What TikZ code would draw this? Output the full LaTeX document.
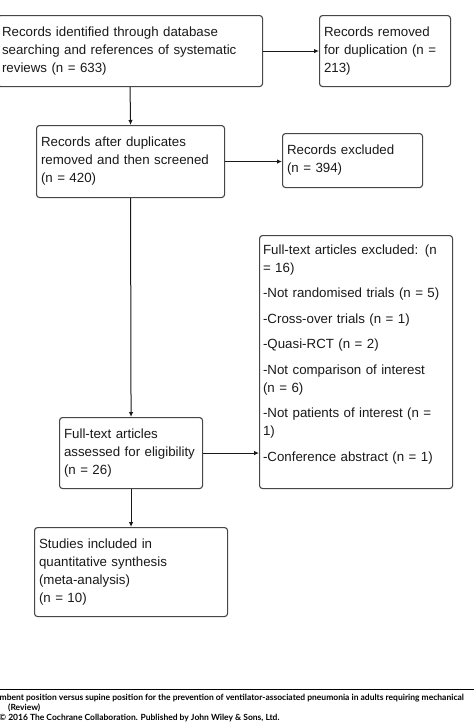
\documentclass[tikz,border=0pt]{standalone}
\usepackage{fontspec}
\setmainfont{Liberation Sans}
\newfontfamily\footfont{Lato}
\usetikzlibrary{arrows.meta}
\usepackage{xcolor}
\definecolor{boxGray}{RGB}{70,70,70}
\definecolor{inkGray}{RGB}{25,25,25}

\tikzset{
  flowbox/.style={draw=boxGray, line width=1.1pt, rounded corners=3pt, anchor=north west,
    align=left, inner xsep=4.5pt, inner ysep=0pt, text=inkGray,
    font=\fontsize{13.3}{18}\selectfont},
  flowarrow/.style={draw=inkGray, line width=1pt, -{Latex[length=5pt,width=4.5pt]}},
  footline/.style={anchor=base west, inner sep=0pt, text=black,
    font=\footfont\bfseries\fontsize{8.5}{10}\selectfont}
}

\begin{document}
\begin{tikzpicture}[x=1pt, y=-1pt]
    \useasboundingbox (0,0) rectangle (474,723);
    \clip (0,0) rectangle (474,723);
    \newcommand\gap{7.5pt}

    % boxes
    \node[flowbox, minimum width=265pt, minimum height=71pt, text width=256pt] (identified) at (-3,15)
        {Records identified through database\\searching and references of systematic\\reviews (n = 633)};
    \node[flowbox, minimum width=131pt, minimum height=71pt, text width=122pt] (removed) at (319,15)
        {Records removed\\for duplication (n =\\213)};
    \node[flowbox, minimum width=188pt, minimum height=72pt, text width=179pt] (screened) at (36,125)
        {Records after duplicates\\removed and then screened\\(n = 420)};
    \node[flowbox, minimum width=140pt, minimum height=54pt, text width=131pt] (excluded) at (282,133)
        {Records excluded\\(n = 394)};
    \node[flowbox, inner xsep=3.5pt, minimum width=183pt, minimum height=253pt, text width=186pt] (fulltextout) at (259,235)
        {Full-text articles excluded: (n\\= 16)\\[\gap]-Not randomised trials (n = 5)\\[\gap]-Cross-over trials (n = 1)\\[\gap]-Quasi-RCT (n = 2)\\[\gap]-Not comparison of interest\\(n = 6)\\[\gap]-Not patients of interest (n =\\1)\\[\gap]-Conference abstract (n = 1)\\[0pt]\mbox{}};
    \node[flowbox, minimum width=143pt, minimum height=71pt, text width=134pt] (assessed) at (59,417)
        {Full-text articles\\assessed for eligibility\\(n = 26)};
    \node[flowbox, minimum width=193pt, minimum height=89pt, text width=184pt] (included) at (34,527)
        {Studies included in\\quantitative synthesis\\(meta-analysis)\\(n = 10)};

    % draw arrow
    \draw[flowarrow] (identified.south) -- (screened.north);
    \draw[flowarrow] (identified.east) -- (removed.west |- identified.east);
    \draw[flowarrow] (screened.east) -- (excluded.west |- screened.east);
    \draw[flowarrow] (screened.south) -- (assessed.north);
    \draw[flowarrow] (assessed.east) -- (fulltextout.west |- assessed.east);
    \draw[flowarrow] (assessed.south) -- (included.north);

    % page footer
    \coordinate (ruleleft) at (0,689.5);
    \coordinate (ruleright) at (474,689.5);
    \draw[line width=1.4pt] (ruleleft) -- (ruleright);
    \node[footline] (citeone) at (-0.5,700.5) {mbent position versus supine position for the prevention of ventilator-associated pneumonia in adults requiring mechanical};
    \node[footline] (citetwo) at (8,710.5) {(Review)};
    \node[footline] (citethree) at (-1,720) {\symbol{"00A9} 2016 The Cochrane Collaboration. Published by John Wiley \& Sons, Ltd.};
\end{tikzpicture}
\end{document}
